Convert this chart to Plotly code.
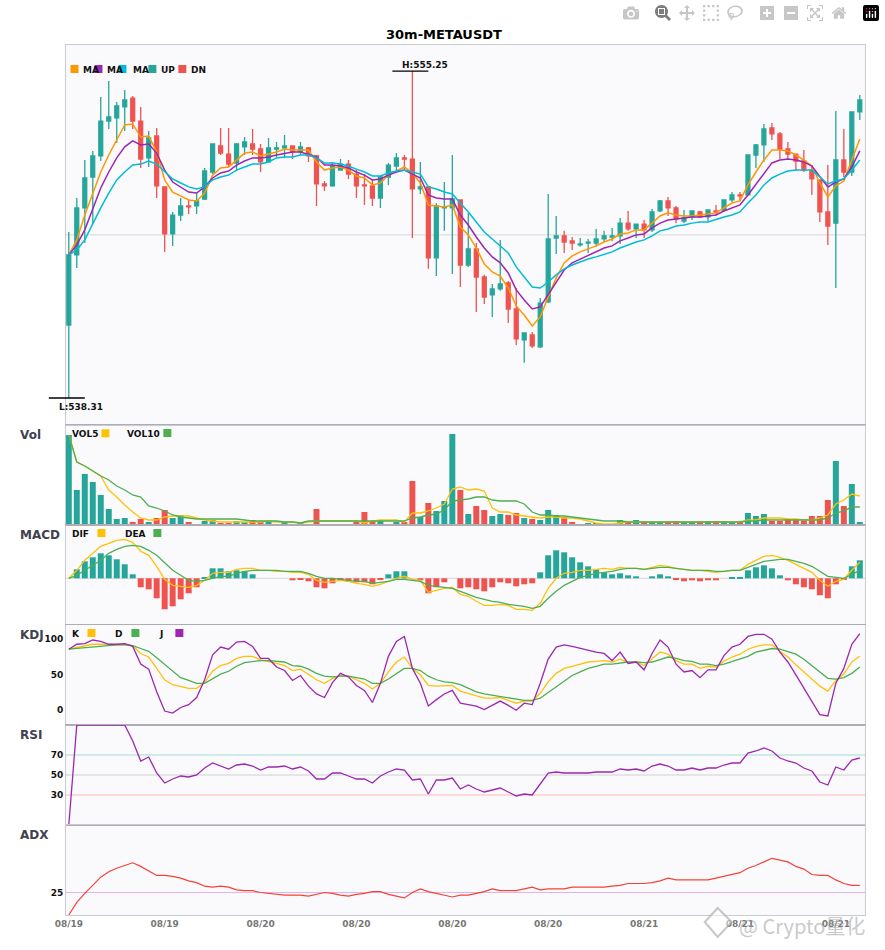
import plotly.graph_objects as go
from plotly.subplots import make_subplots

TITLE = "30m-METAUSDT"
TICK_INDEX = [0, 12, 24, 36, 48, 60, 72, 84, 96]
TICK_LABELS = ["08/19", "08/19", "08/20", "08/20", "08/20", "08/20", "08/21", "08/21", "08/21"]

OPEN = [542.09,545.72,548.16,549.76,550.85,552.66,552.82,553.39,553.85,552.66,
550.75,551.89,549.25,546.81,547.79,548.26,548.26,548.62,550.02,551.37,
550.95,550.48,551.32,551.47,551.21,550.54,551.21,551.27,551.37,551.06,
551.27,550.85,549.40,549.30,550.12,550.43,549.91,549.35,549.30,548.67,
549.76,550.33,550.75,550.69,549.14,549.25,545.57,548.16,548.16,548.57,
545.20,546.03,544.58,543.65,543.96,544.27,542.92,541.32,541.58,540.96,
543.29,546.60,546.71,546.45,546.24,546.34,546.34,546.55,546.65,546.71,
547.37,547.07,547.32,547.02,548.00,548.52,548.16,547.48,547.69,547.95,
547.69,548.00,548.05,548.57,548.83,548.83,550.90,551.42,552.30,551.99,
551.21,550.95,550.59,550.12,549.61,547.95,547.37,550.64,550.02,553.13]
CLOSE = [545.72,548.16,549.71,550.85,552.66,552.87,553.44,553.75,552.66,550.69,
551.78,549.30,546.81,547.79,548.26,548.21,548.52,550.07,551.47,551.00,
550.43,551.47,551.58,551.21,550.54,551.27,551.27,551.37,551.06,551.32,
550.85,549.40,549.30,550.33,550.43,549.91,549.30,549.30,548.67,549.76,
550.38,550.75,550.69,549.14,549.25,545.57,548.26,548.21,548.62,545.20,
546.03,544.58,543.54,543.96,544.22,542.92,541.37,541.68,541.01,543.23,
546.55,546.71,546.39,546.34,546.29,546.39,546.55,546.71,546.71,547.37,
547.07,547.32,547.02,547.95,548.52,548.16,547.58,547.64,548.00,547.69,
548.05,547.95,548.57,548.83,548.78,550.90,551.42,552.25,551.99,551.21,
550.95,550.59,550.12,549.66,547.95,547.22,550.64,550.02,553.13,553.75]
HIGH = [546.91,548.67,550.64,551.11,553.91,554.73,553.65,554.27,553.96,553.39,
552.14,552.30,549.25,547.95,548.67,548.57,548.93,550.23,551.47,552.30,
552.30,551.52,551.83,552.25,551.47,551.78,551.58,551.94,551.37,551.58,
551.32,550.90,549.55,550.54,550.69,550.64,550.12,549.91,549.61,549.81,
550.48,551.00,550.90,555.25,550.54,549.25,548.41,549.50,550.90,548.57,
547.90,546.34,544.69,544.22,546.50,544.37,544.01,541.68,541.73,543.49,
548.88,547.74,546.97,546.65,546.60,546.55,547.07,546.97,547.12,547.64,
548.00,547.32,547.53,548.10,548.57,548.73,548.26,548.05,548.00,548.00,
548.05,548.31,548.57,548.98,548.98,550.90,551.47,552.51,552.56,552.09,
551.58,550.95,551.16,550.38,549.61,550.38,553.18,552.25,553.13,554.01]
LOW = [538.31,545.05,546.34,547.37,550.59,552.25,551.52,552.14,552.25,550.23,
550.28,548.67,545.88,546.19,547.48,547.84,547.84,548.57,549.91,550.90,
550.28,550.07,550.90,550.90,550.02,550.48,550.80,550.75,550.69,550.90,
550.54,548.26,549.04,549.25,550.12,549.66,548.67,548.31,548.26,548.16,
549.35,550.12,550.17,546.60,548.88,545.00,544.63,546.97,544.74,544.06,
545.10,542.77,543.18,542.51,543.86,542.20,541.06,540.13,540.90,540.90,
543.23,545.77,545.82,545.98,546.14,545.82,546.14,546.39,546.45,546.29,
546.97,546.60,546.60,546.91,547.95,547.74,547.37,547.37,547.53,547.64,
547.48,547.74,548.00,548.47,548.52,548.83,550.23,550.54,551.68,550.69,
550.69,550.07,550.02,548.83,547.43,546.24,544.01,549.76,549.81,552.71]

MA_FAST = [545.72,546.50,547.79,548.93,550.02,550.90,551.68,552.46,552.51,551.83,
551.88,551.06,549.61,548.98,548.78,548.57,548.52,548.93,549.86,550.23,
550.28,550.64,551.00,551.06,550.85,550.95,551.06,551.21,551.16,551.16,
551.16,550.54,550.12,550.23,550.28,550.12,549.81,549.71,549.35,549.45,
549.86,550.07,550.28,549.97,549.45,548.31,548.26,548.21,548.31,547.17,
546.76,546.08,545.25,544.84,544.63,544.01,543.08,542.61,542.04,542.51,
543.55,544.53,545.31,545.67,545.88,546.03,546.19,546.39,546.55,546.81,
546.86,547.02,547.02,547.37,547.74,547.90,547.79,547.74,547.74,547.79,
547.84,547.90,548.16,548.41,548.52,549.35,550.02,550.64,551.16,551.16,
551.11,550.90,550.64,550.33,549.45,548.73,549.30,549.55,550.64,551.73]
MA_MID = [545.72,546.24,547.02,548.16,549.19,550.02,550.75,551.32,551.63,551.42,
551.47,551.00,550.12,549.50,549.25,548.98,548.93,549.25,549.71,549.97,
550.07,550.38,550.59,550.75,550.75,550.80,550.90,551.00,551.06,551.06,
550.95,550.80,550.38,550.38,550.33,550.23,550.02,549.86,549.61,549.66,
549.86,550.02,550.12,549.91,549.71,548.83,548.67,548.62,548.62,547.79,
547.27,546.65,546.08,545.62,545.31,544.79,543.91,543.39,542.92,543.03,
543.65,544.32,544.94,545.31,545.51,545.67,545.88,546.08,546.19,546.45,
546.60,546.76,546.81,547.12,547.37,547.53,547.58,547.64,547.69,547.69,
547.74,547.79,548.00,548.16,548.31,548.83,549.40,549.97,550.49,550.64,
550.69,550.64,550.54,550.33,549.76,549.24,549.50,549.66,550.28,551.11]
MA_SLOW = [545.72,545.98,546.50,547.37,548.16,548.93,549.61,550.02,550.38,550.43,
550.59,550.43,550.02,549.66,549.45,549.25,549.14,549.25,549.61,549.76,
549.86,550.12,550.28,550.43,550.43,550.54,550.75,550.80,550.80,550.90,
550.90,550.75,550.48,550.48,550.43,550.33,550.17,550.02,549.81,549.81,
549.97,550.07,550.12,550.02,549.91,549.25,549.14,548.98,548.88,548.41,
547.95,547.43,546.91,546.55,546.19,545.82,545.10,544.58,544.06,544.01,
544.32,544.69,545.00,545.20,545.36,545.51,545.62,545.77,545.88,546.08,
546.24,546.39,546.50,546.71,546.97,547.07,547.22,547.27,547.37,547.43,
547.43,547.58,547.69,547.79,547.95,548.41,548.83,549.35,549.71,549.91,
550.07,550.12,550.12,550.12,549.76,549.40,549.55,549.66,550.12,550.64]

VOL = [90,35,51,43,30,16,6,7,3,6,
3,7,15,7,10,3,1,4,5,2,
2,4,3,5,4,3,1,3,1,2,
1,16,1,1,1,1,3,13,4,4,
1,3,3,44,8,22,14,24,91,35,
11,19,15,9,11,10,12,7,6,5,
15,10,8,3,1,2,2,1,1,5,
3,5,3,3,3,3,4,3,3,3,
4,4,4,3,3,12,9,11,4,4,
6,6,4,9,9,25,64,19,41,3]
VOL5 = [90,63,59,54,49,35,28,20,13,7,
5,5,8,9,9,9,7,5,4,3,
3,3,3,3,3,4,3,3,3,2,
3,4,4,4,4,4,4,2,4,5,
5,5,3,12,12,14,17,21,36,38,
35,36,34,17,13,13,10,9,8,7,
8,8,7,7,6,4,2,1,1,2,
3,3,3,3,3,3,3,3,3,3,
3,3,3,3,3,5,5,7,7,7,
6,6,5,5,7,10,21,25,31,29]
VOL10 = [90,63,59,54,49,45,39,35,30,28,
19,17,14,10,8,7,6,6,6,6,
6,6,5,4,4,4,4,3,3,2,
4,4,4,4,4,4,4,4,4,4,
4,4,4,7,8,10,11,15,24,25,
26,28,28,25,24,24,24,21,13,10,
10,9,9,8,7,6,5,4,4,4,
3,3,3,3,3,3,3,3,3,3,
3,3,3,3,3,4,4,5,5,5,
5,5,5,5,5,7,12,14,18,18]

MACD = [0,9,17,21,25,23,19,14,4,-9,
-11,-20,-31,-28,-21,-15,-9,1,10,10,
7,8,7,4,0,0,0,0,-2,-1,
-3,-9,-10,-5,-1,-3,-4,-4,-6,-1,
4,7,7,0,-2,-15,-9,-4,0,-10,
-9,-11,-13,-9,-4,-5,-8,-6,-5,6,
23,28,26,21,16,12,9,6,4,5,
3,2,0,2,4,2,-1,-3,-2,-3,
-2,-2,0,1,1,8,11,13,10,3,
-2,-6,-9,-11,-17,-20,-6,-1,12,18]
DIF = [0,8,18,25,32,35,38,39,36,27,
23,12,-1,-7,-8,-9,-7,-2,5,6,
6,9,10,10,8,8,7,7,6,6,
4,-2,-4,-3,-2,-3,-5,-6,-8,-6,
-3,0,2,-1,-2,-14,-12,-10,-9,-16,
-18,-23,-27,-27,-26,-27,-31,-31,-32,-25,
-10,0,5,6,8,8,9,10,9,11,
10,10,9,11,13,12,10,9,8,8,
7,6,7,8,8,14,18,22,23,21,
18,14,10,6,-2,-8,-3,-1,8,16]
DEA = [0,3,8,13,18,25,29,32,33,32,
28,23,15,8,3,-2,-3,-2,0,2,
2,5,7,8,8,8,8,7,7,7,
5,2,0,0,-1,-2,-3,-3,-5,-4,
-3,-1,-1,-2,-3,-7,-8,-9,-10,-13,
-16,-19,-21,-23,-24,-26,-27,-28,-30,-28,
-20,-13,-7,-3,1,3,5,6,7,9,
10,10,9,10,11,11,10,9,8,8,
8,7,7,8,8,11,14,17,18,19,
19,17,15,12,7,2,1,0,4,8]

K = [86,88,90,93,93,92,92,93,91,80,
75,59,43,36,33,31,31,39,55,63,
66,73,76,76,71,69,66,63,56,58,
51,43,38,45,49,48,43,38,30,38,
54,68,75,59,50,35,34,34,35,27,
24,20,17,17,18,14,10,13,13,24,
40,52,59,62,65,68,69,70,68,72,
67,68,63,73,82,79,70,65,65,59,
62,61,69,75,79,86,90,92,92,83,
75,64,54,44,34,27,42,51,68,76]
D = [86,87,88,89,91,92,92,92,91,87,
83,74,65,55,46,42,38,38,44,51,
55,62,67,69,70,70,69,68,63,62,
58,52,48,47,48,48,46,44,38,38,
44,52,59,59,56,48,43,40,39,36,
31,26,23,21,20,18,15,14,14,17,
25,33,41,49,54,59,62,65,65,67,
68,68,67,68,72,75,73,70,69,65,
65,63,65,69,72,76,82,85,87,86,
83,79,72,63,54,45,44,46,52,61]
J = [86,93,94,99,97,93,93,94,90,65,
58,26,-1,-4,4,8,18,43,78,89,
86,96,97,90,73,73,61,56,42,49,
34,23,18,39,52,47,35,28,11,38,
76,97,104,59,38,6,15,23,28,10,
8,6,1,7,13,7,0,10,8,38,
72,89,92,90,87,85,82,80,70,82,
66,68,57,80,99,89,65,54,56,46,
57,57,77,89,93,104,107,107,100,82,
68,50,31,12,-6,-8,38,59,93,108]
RSI = [0,100,100,100,100,100,100,100,84,64,
68,52,42,46,49,48,50,57,62,59,
56,60,61,59,55,58,58,59,56,58,
54,46,46,52,52,49,46,46,42,49,
53,56,55,45,46,31,45,45,47,36,
40,36,33,35,37,33,29,31,30,41,
52,53,52,52,52,52,53,53,53,56,
55,56,54,59,61,59,55,55,57,55,
57,57,60,62,62,72,74,77,74,67,
64,62,57,54,43,40,58,55,65,67]
ADX = [0,14,24,33,42,48,52,55,58,54,
49,44,44,43,41,38,36,32,31,32,
31,28,27,27,25,24,23,22,22,22,
21,23,25,24,22,21,23,24,26,26,
23,21,19,25,29,26,24,22,20,22,
22,24,26,29,27,27,27,29,31,28,
29,29,29,31,31,31,31,31,32,33,
35,35,35,36,38,41,39,39,39,39,
39,41,43,45,47,52,55,59,63,61,
59,54,51,45,44,44,39,35,33,33]

for arr in (OPEN, CLOSE, HIGH, LOW, MA_FAST, MA_MID, MA_SLOW, VOL, VOL5, VOL10, MACD, DIF, DEA, K, D, J, RSI, ADX):
    assert len(arr) == 100, len(arr)

UP, DN = "#26a69a", "#ef5350"
ORANGE, PURPLE, CYAN = "#ff9800", "#9c27b0", "#00bcd4"
YELLOW, GREEN, ADXRED = "#ffc107", "#4caf50", "#f44336"
FAM = "DejaVu Sans"
W, H = 885, 950
L_, R_, T_, B_ = 65.5, 865.5, 45, 915


def px(v):
    return (v - L_) / (R_ - L_)


def py(v):
    return (B_ - v) / (B_ - T_)


xs = list(range(100))
fig = make_subplots(rows=6, cols=1, shared_xaxes=True, vertical_spacing=0,
                    row_heights=[380, 100, 100, 100, 100, 90])

fig.add_trace(go.Candlestick(x=xs, open=OPEN, high=HIGH, low=LOW, close=CLOSE, whiskerwidth=0,
                             increasing=dict(line=dict(color=UP, width=1.3), fillcolor=UP),
                             decreasing=dict(line=dict(color=DN, width=1.3), fillcolor=DN),
                             showlegend=False), row=1, col=1)


def line(y, color, row, width=1.4):
    fig.add_trace(go.Scatter(x=xs, y=y, mode="lines", line=dict(color=color, width=width),
                             showlegend=False, hoverinfo="skip"), row=row, col=1)


line(MA_FAST, ORANGE, 1, 1.5)
line(MA_MID, PURPLE, 1, 1.5)
line(MA_SLOW, CYAN, 1, 1.5)

bar_color = [UP if c >= o else DN for o, c in zip(OPEN, CLOSE)]
fig.add_trace(go.Bar(x=xs, y=VOL, width=0.75, marker=dict(color=bar_color, line=dict(width=0)), showlegend=False), row=2, col=1)
line(VOL5, YELLOW, 2, 1.3)
line(VOL10, GREEN, 2, 1.3)

hist_color = [UP if v >= 0 else DN for v in MACD]
fig.add_trace(go.Bar(x=xs, y=MACD, width=0.75, marker=dict(color=hist_color, line=dict(width=0)), showlegend=False), row=3, col=1)
line(DIF, YELLOW, 3, 1.3)
line(DEA, GREEN, 3, 1.3)

line(K, YELLOW, 4, 1.3)
line(D, GREEN, 4, 1.3)
line(J, PURPLE, 4, 1.3)
line(RSI, PURPLE, 5, 1.3)
line(ADX, ADXRED, 6, 1.2)

LEVELS = [
    (1, 546.76, "#dddddf"), (3, 0, "#dddddf"),
    (4, 100, "#a3dcd6"), (4, 50, "#d0d0d0"), (4, 0, "#ffb8b8"),
    (5, 70, "#a3dcd6"), (5, 50, "#d0d0d0"), (5, 30, "#ffb8b8"),
    (6, 25, "#e3b4ea"),
]
for row, lv, col in LEVELS:
    fig.add_hline(y=lv, row=row, col=1, line=dict(color=col, width=1.2), layer="below")

RANGES = {1: [536.91, 556.60], 2: [0, 100], 3: [-46.7, 53.3], 4: [-20.7, 120.1], 5: [0, 100], 6: [0, 100]}
TICKS = {4: [0, 50, 100], 5: [30, 50, 70], 6: [25]}
for r in range(1, 7):
    fig.update_yaxes(row=r, col=1, range=RANGES[r], showgrid=False, zeroline=False, fixedrange=True,
                     showline=True, mirror=True, linecolor="#cacad2", linewidth=1,
                     tickvals=TICKS.get(r, []), ticktext=[str(t) for t in TICKS.get(r, [])],
                     tickfont=dict(family=FAM, size=9, color="#111", weight="bold"))
    fig.update_xaxes(row=r, col=1, range=[-0.35, 99.65], showgrid=False, zeroline=False,
                     showline=True, mirror=True, linewidth=1,
                     linecolor="#adadb3" if r != 6 else "#cacad2",
                     rangeslider=dict(visible=False), tickvals=TICK_INDEX, ticktext=TICK_LABELS,
                     tickfont=dict(family=FAM, size=9, color="#777", weight="bold"))
fig.update_xaxes(row=1, col=1, linecolor="#cacad2")

shapes = []
anns = []


def text(x, y, s, size=9, color="#111", anchor="left", family=FAM, weight="bold"):
    anns.append(dict(x=px(x), y=py(y), xref="paper", yref="paper", text=s, showarrow=False, xanchor=anchor,
                     yanchor="middle", xshift=0, font=dict(family=family, size=size, color=color, weight=weight)))


def sq(x0, y0, color, s=8):
    shapes.append(dict(type="rect", xref="paper", yref="paper", x0=px(x0), x1=px(x0 + s), y0=py(y0), y1=py(y0 + s),
                       fillcolor=color, line=dict(width=0)))


text(443.5, 35, TITLE, size=13, color="#000", anchor="center")
for x, col in [(70, ORANGE), (94, PURPLE), (118, CYAN), (148, UP), (178, DN)]:
    sq(x, 65, col)
for x, s in [(80.5, "MA"), (105, "MA"), (130.5, "MA"), (158.5, "UP"), (188.5, "DN")]:
    text(x, 69.5, s)
for x, s in [(69.5, "VOL5"), (124.5, "VOL10")]:
    text(x, 433.8, s)
sq(101, 429.3, YELLOW)
sq(163, 429, GREEN)
for x, s in [(69.5, "DIF"), (123, "DEA")]:
    text(x, 534, s)
sq(97, 529, YELLOW)
sq(153, 529, GREEN)
for x, s in [(69.5, "K"), (112.5, "D"), (156.5, "J")]:
    text(x, 634, s)
sq(87, 629, YELLOW)
sq(131, 629, GREEN)
sq(175, 629, PURPLE)
for y, s in [(434.7, "Vol"), (535, "MACD"), (635, "KDJ"), (735, "RSI"), (835, "ADX")]:
    text(17, y, s, size=12, color="#3f4050")

hi = max(HIGH)
lo = min(LOW)
hi_i = HIGH.index(hi)
lo_i = LOW.index(lo)
hx = 68.3 + 8 * hi_i
lx = 68.3 + 8 * lo_i
shapes.append(dict(type="line", xref="paper", yref="y", x0=px(hx - 20), x1=px(hx + 16), y0=hi, y1=hi, line=dict(color="#000", width=1.3)))
shapes.append(dict(type="line", xref="paper", yref="y", x0=px(lx - 20), x1=px(lx + 16), y0=lo, y1=lo, line=dict(color="#000", width=1.3)))
text(hx - 12.3, 64.7, f"H:{hi:.2f}")
text(lx - 12.3, 406.7, f"L:{lo:.2f}")

# watermark
wm = "rgba(165,165,170,0.62)"
text(737, 925, "@ Crypto量化", size=20, color=wm, family="Noto Sans CJK SC", weight="normal")
shapes.append(dict(type="path", xref="paper", yref="paper",
                   path=f"M {px(718)} {py(908)} L {px(732)} {py(922)} L {px(718)} {py(937)} L {px(705)} {py(922)} Z",
                   line=dict(color=wm, width=2), fillcolor="rgba(255,255,255,0.5)"))

fig.update_layout(width=W, height=H, margin=dict(l=L_, r=W - R_, t=T_, b=H - B_, pad=0),
                  paper_bgcolor="#ffffff", plot_bgcolor="#fafafd", boxgap=0.3, barmode="overlay",
                  showlegend=False, annotations=anns, shapes=list(fig.layout.shapes) + shapes,
                  font=dict(family=FAM))

fig.write_html("out.html", post_script="document.body.style.margin='0';")
